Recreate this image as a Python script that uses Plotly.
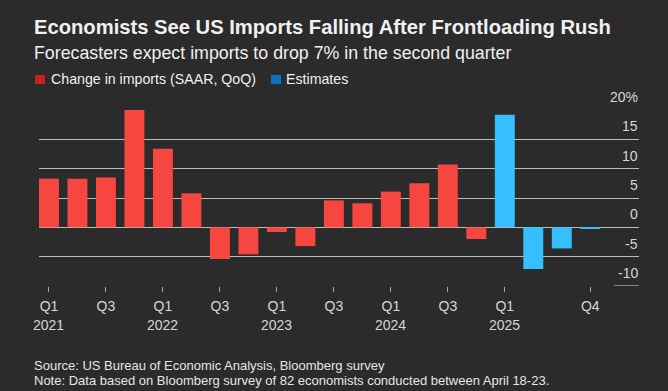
import plotly.graph_objects as go

# ---- data ----
quarters = ["2021 Q1", "2021 Q2", "2021 Q3", "2021 Q4",
            "2022 Q1", "2022 Q2", "2022 Q3", "2022 Q4",
            "2023 Q1", "2023 Q2", "2023 Q3", "2023 Q4",
            "2024 Q1", "2024 Q2", "2024 Q3", "2024 Q4",
            "2025 Q1", "2025 Q2", "2025 Q3", "2025 Q4"]
actual_q = quarters[:16]
actual_vals = [8.3, 8.3, 8.5, 20.8,
               13.4, 5.8, -5.4, -4.6,
               -0.8, -3.2, 4.6, 4.1,
               6.1, 7.5, 10.7, -2.0]
est_q = quarters[16:]
est_vals = [19.2, -7.1, -3.6, -0.2]

xtick_vals = ["2021 Q1", "2021 Q3", "2022 Q1", "2022 Q3", "2023 Q1", "2023 Q3",
              "2024 Q1", "2024 Q3", "2025 Q1", "2025 Q4"]
xtick_text = ["Q1", "Q3", "Q1", "Q3", "Q1", "Q3", "Q1", "Q3", "Q1", "Q4"]
year_pos = ["2021 Q1", "2022 Q1", "2023 Q1", "2024 Q1", "2025 Q1"]
year_text = ["2021", "2022", "2023", "2024", "2025"]
ytick_vals = [20, 15, 10, 5, 0, -5, -10]
ytick_text = ["20%", "15", "10", "5", "0", "-5", "-10"]

title = "Economists See US Imports Falling After Frontloading Rush"
subtitle = "Forecasters expect imports to drop 7% in the second quarter"
legend_labels = ["Change in imports (SAAR, QoQ)", "Estimates"]
source1 = "Source: US Bureau of Economic Analysis, Bloomberg survey"
source2 = "Note: Data based on Bloomberg survey of 82 economists conducted between April 18-23."

# ---- layout geometry ----
W, H = 668, 391
L, R, T, B = 39, 29, 110, 105
PW = W - L - R
PH = H - T - B
BG = "#2a2b2a"
RED = "#f64640"
BLUE = "#36bfff"
GRID = "#bdbdb8"
TXT = "#d6d6d6"
FONT = "Liberation Sans, Arial, sans-serif"


def px(x):
    return (x - L) / PW


def py(y):
    return (H - B - y) / PH


fig = go.Figure()
fig.add_trace(go.Bar(x=actual_q, y=actual_vals, marker_color=RED,
                     marker_line_width=0, showlegend=False))
fig.add_trace(go.Bar(x=est_q, y=est_vals, marker_color=BLUE,
                     marker_line_width=0, showlegend=False))

annotations = []
# y tick labels above gridlines
for v, t in zip(ytick_vals, ytick_text):
    annotations.append(dict(x=1, xref="paper", y=v, yref="y", text=t,
                            showarrow=False, xanchor="right", yanchor="middle",
                            yshift=13, xshift=1, font=dict(family=FONT, size=14, color=TXT)))
# year labels (second line of x tick labels)
for q, t in zip(year_pos, year_text):
    annotations.append(dict(x=q, xref="x", y=py(324.5), yref="paper", text=t,
                            showarrow=False, xanchor="center", yanchor="middle",
                            font=dict(family=FONT, size=14, color=TXT)))

# title / subtitle
annotations.append(dict(x=px(32), xref="paper", y=py(27), yref="paper", text="<b>" + title + "</b>",
                        showarrow=False, xanchor="left", yanchor="middle",
                        font=dict(family=FONT, size=20.2, color="#f0f0f0")))
annotations.append(dict(x=px(32), xref="paper", y=py(53), yref="paper", text=subtitle,
                        showarrow=False, xanchor="left", yanchor="middle",
                        font=dict(family=FONT, size=17.8, color="#f0f0f0")))
# legend
annotations.append(dict(x=px(48.5), xref="paper", y=py(78.5), yref="paper", text=legend_labels[0],
                        showarrow=False, xanchor="left", yanchor="middle",
                        font=dict(family=FONT, size=14.2, color="#f0f0f0")))
annotations.append(dict(x=px(284), xref="paper", y=py(78.5), yref="paper", text=legend_labels[1],
                        showarrow=False, xanchor="left", yanchor="middle",
                        font=dict(family=FONT, size=14.2, color="#f0f0f0")))
# source
annotations.append(dict(x=px(32), xref="paper", y=py(365), yref="paper", text=source1,
                        showarrow=False, xanchor="left", yanchor="middle",
                        font=dict(family=FONT, size=13, color="#e6e6e6")))
annotations.append(dict(x=px(32), xref="paper", y=py(380), yref="paper", text=source2,
                        showarrow=False, xanchor="left", yanchor="middle",
                        font=dict(family=FONT, size=13, color="#e6e6e6")))

shapes = [
    dict(type="rect", xref="paper", yref="paper", x0=px(35), x1=px(45), y0=py(75), y1=py(84),
         fillcolor="#c3221f", line_width=0),
    dict(type="rect", xref="paper", yref="paper", x0=px(271), x1=px(281), y0=py(75), y1=py(84),
         fillcolor="#0a74c4", line_width=0),
    # short bottom line under the -10 label
    dict(type="line", xref="paper", yref="y", x0=px(614), x1=1, y0=ytick_vals[-1], y1=ytick_vals[-1],
         line=dict(color=GRID, width=1.2)),
]

fig.update_layout(
    width=W, height=H,
    margin=dict(l=L, r=R, t=T, b=B),
    paper_bgcolor=BG, plot_bgcolor=BG,
    bargap=0.3, barmode="overlay",
    showlegend=False,
    annotations=annotations,
    shapes=shapes,
    xaxis=dict(type="category", categoryorder="array", categoryarray=quarters,
               range=[-0.35, 20.71], tickvals=xtick_vals, ticktext=xtick_text,
               ticks="outside", ticklen=5, tickcolor="#aaaaaa", tickwidth=1,
               ticklabelstandoff=2,
               showgrid=False, zeroline=False, showline=False,
               tickfont=dict(family=FONT, size=14, color=TXT)),
    yaxis=dict(range=[-10, 20], tickvals=ytick_vals[:-1], showticklabels=False,
               showgrid=True, gridcolor=GRID, gridwidth=1.2,
               zeroline=False, showline=False, ticks=""),
)

fig.write_html("out.html", config={"displayModeBar": False},
               post_script="document.body.style.margin='0';document.body.style.background='" + BG + "';")
